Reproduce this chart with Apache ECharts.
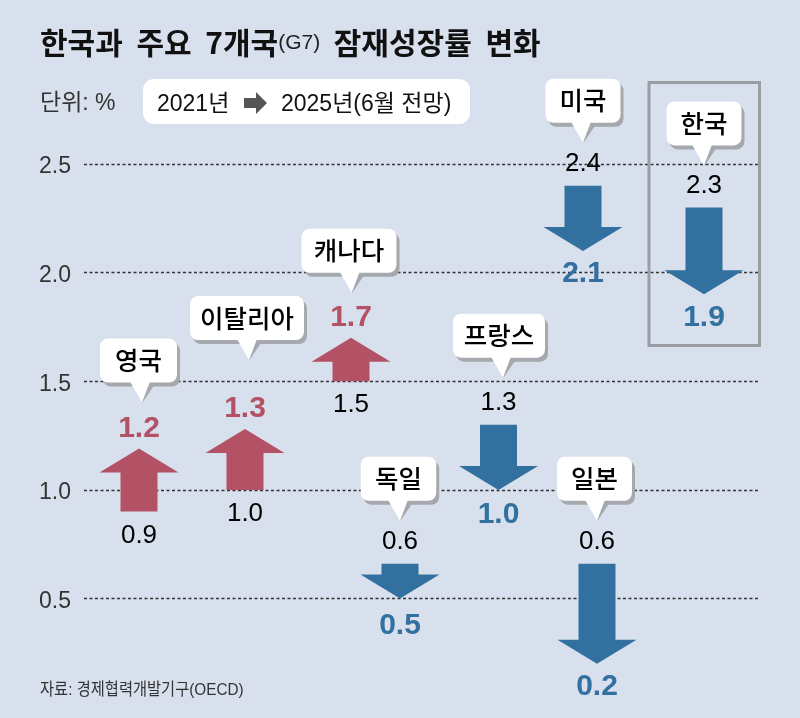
<!DOCTYPE html>
<html>
<head>
<meta charset="utf-8">
<script src="https://cdn.jsdelivr.net/npm/echarts@6/dist/echarts.min.js"></script>
<style>
    html, body {margin: 0; padding: 0; background: #d8e0ed;}
    #chart {width: 800px; height: 718px;}
</style>
</head>
<body>
<div id="chart"></div>
<script>
// 데이터
var countries = ['영국', '이탈리아', '캐나다', '독일', '프랑스', '일본', '미국', '한국'];
// 그림에 적힌 수치
var labels2021 = ['0.9', '1.0', '1.5', '0.6', '1.3', '0.6', '2.4', '2.3'];
var labels2025 = ['1.2', '1.3', '1.7', '0.5', '1.0', '0.2', '2.1', '1.9'];
// 눈금에서 읽은 화살표 시작/끝 값
var rate2021 = [0.9, 1.0, 1.5, 0.66, 1.3, 0.66, 2.4, 2.3];
var rate2025 = [1.19, 1.28, 1.7, 0.5, 1.0, 0.2, 2.1, 1.9];
var yTicks = [0.5, 1.0, 1.5, 2.0, 2.5];

// 배치 (가로 위치, 말풍선 크기와 꼬리)
var slotX = [139, 245, 351, 400, 498.5, 597, 583, 704];
var bubbleW = [77, 114, 95, 75.5, 92, 75, 75, 75];
var bubbleDx = [-0.5, 2, -2, -1.5, 0.5, -2.5, 0, 0];
var tipDx = [3, 4, 0.7, 0, 4.5, 0, 0, 0];
var tipGap = [46, 69, 45, 43, 47, 43, 43, 42];
var toLabelDy = [0, 0, 0, 4, 2, 0, 0, 0];

var UP_COLOR = '#b25264';
var DOWN_COLOR = '#31709f';
var NUM_FONT = '"Liberation Sans", "Noto Sans CJK KR", sans-serif';
var KR_FONT = '"Noto Sans CJK KR", "Liberation Sans", sans-serif';

var chart = echarts.init(document.getElementById('chart'));

function arrowPoints(x, y0, y1) {
    var dir = y1 < y0 ? 1 : -1;   // 1: 위쪽 화살표
    var neck = y1 + dir * 24;
    return [
        [x - 18.5, y0], [x - 18.5, neck], [x - 39.5, neck], [x, y1],
        [x + 39.5, neck], [x + 18.5, neck], [x + 18.5, y0]
    ];
}

function bubble(cx, w, tipX, tipY, name) {
    var h = 44;
    var bottom = tipY - 20;
    var top = bottom - h;
    var left = cx - w / 2;
    var tail = [[tipX - 12, bottom - 1], [tipX + 8, bottom - 1], [tipX, tipY]];
    var tailShadow = [[tipX - 8, bottom + 3], [tipX + 12, bottom + 3], [tipX + 0.5, tipY]];
    return [
        {type: 'rect', shape: {x: left + 3, y: top + 4, width: w, height: h, r: 8}, style: {fill: '#a5a8ac'}},
        {type: 'polygon', shape: {points: tailShadow}, style: {fill: '#a5a8ac'}},
        {type: 'rect', shape: {x: left, y: top, width: w, height: h, r: 8}, style: {fill: '#fff'}},
        {type: 'polygon', shape: {points: tail}, style: {fill: '#fff'}},
        {
            type: 'text',
            style: {
                x: cx, y: top + h / 2, text: name, fill: '#000',
                font: '500 25.5px ' + KR_FONT, textAlign: 'center', textVerticalAlign: 'middle'
            }
        }
    ];
}

function renderItem(params, api) {
    var i = params.dataIndex;
    var x = api.coord([api.value(0), 0])[0];
    var y0 = api.coord([0, api.value(1)])[1];
    var y1 = api.coord([0, api.value(2)])[1];
    var up = y1 < y0;
    var color = up ? UP_COLOR : DOWN_COLOR;
    var fromY = up ? y0 + 24 : y0 - 21.5;
    var toY = (up ? y1 - 20 : y1 + 23) + toLabelDy[i];
    var topY = Math.min(y0, y1);

    var children = [
        {type: 'polygon', shape: {points: arrowPoints(x, y0, y1)}, style: {fill: color}},
        {
            type: 'text',
            style: {
                x: x, y: fromY, text: labels2021[i], fill: '#000',
                font: '26px ' + NUM_FONT, textAlign: 'center', textVerticalAlign: 'middle'
            }
        },
        {
            type: 'text',
            style: {
                x: x, y: toY, text: labels2025[i], fill: color,
                font: 'bold 30px ' + NUM_FONT, textAlign: 'center', textVerticalAlign: 'middle'
            }
        }
    ];
    children = children.concat(bubble(x + bubbleDx[i], bubbleW[i], x + tipDx[i], topY - tipGap[i], countries[i]));
    return {type: 'group', children: children};
}

var seriesData = countries.map(function (name, i) {
    return [slotX[i], rate2021[i], rate2025[i]];
});

var option = {
    animation: false,
    backgroundColor: '#d8e0ed',
    title: {
        left: 40,
        top: 23,
        padding: 0,
        text: '{b|한국과}{w| }{b|주요}{w| }{b|7개국}{s|(G7)}{w| }{b|잠재성장률}{w| }{b|변화}',
        textStyle: {
            rich: {
                b: {fontFamily: KR_FONT, fontSize: 30, fontWeight: 'bold', color: '#111', lineHeight: 40},
                s: {fontFamily: NUM_FONT, fontSize: 21, fontWeight: 'normal', color: '#222', lineHeight: 40},
                w: {fontFamily: KR_FONT, fontSize: 60, fontWeight: 'bold', lineHeight: 40}
            }
        }
    },
    grid: {left: 84, right: 40, top: 164, bottom: 119.5},
    xAxis: {type: 'value', min: 84, max: 760, show: false},
    yAxis: {
        type: 'value',
        min: yTicks[0],
        max: yTicks[yTicks.length - 1],
        interval: 0.5,
        axisLine: {show: false},
        axisTick: {show: false},
        axisLabel: {
            margin: 13,
            formatter: function (v) {
                return '{n|' + v.toFixed(1) + '}';
            },
            rich: {
                n: {color: '#333', fontFamily: NUM_FONT, fontSize: 23, padding: [6, 0, 0, 0]}
            }
        },
        splitLine: {lineStyle: {color: '#333', width: 1.3, type: [3, 2.5]}}
    },
    series: [{
        type: 'custom',
        clip: false,
        data: seriesData,
        renderItem: renderItem,
        z: 5
    }],
    graphic: [
        {
            type: 'text', left: 40, top: 92, silent: true,
            style: {text: '단위: %', fill: '#333', font: '23px ' + NUM_FONT}
        },
        {
            type: 'rect', left: 143, top: 79, silent: true,
            shape: {width: 327, height: 45, r: 11},
            style: {fill: '#fff'}
        },
        {
            type: 'text', left: 157, top: 93, silent: true,
            style: {text: '2021년', fill: '#111', font: '23px ' + NUM_FONT}
        },
        {
            type: 'polygon', silent: true,
            shape: {points: [[244, 98], [256, 98], [256, 92], [267, 103], [256, 114], [256, 108], [244, 108]]},
            style: {fill: '#555'}
        },
        {
            type: 'text', left: 281, top: 93, silent: true,
            style: {text: '2025년(6월 전망)', fill: '#111', font: '23px ' + NUM_FONT}
        },
        {
            type: 'rect', silent: true,
            shape: {x: 649, y: 82.5, width: 110.5, height: 263},
            style: {fill: 'none', stroke: '#9a9ea3', lineWidth: 3},
            z: 4
        },
        {
            type: 'text', x: 40, y: 682, scaleX: 0.9, silent: true,
            style: {text: '자료: 경제협력개발기구(OECD)', fill: '#333', font: '17px ' + NUM_FONT}
        }
    ]
};

chart.setOption(option);
</script>
</body>
</html>
